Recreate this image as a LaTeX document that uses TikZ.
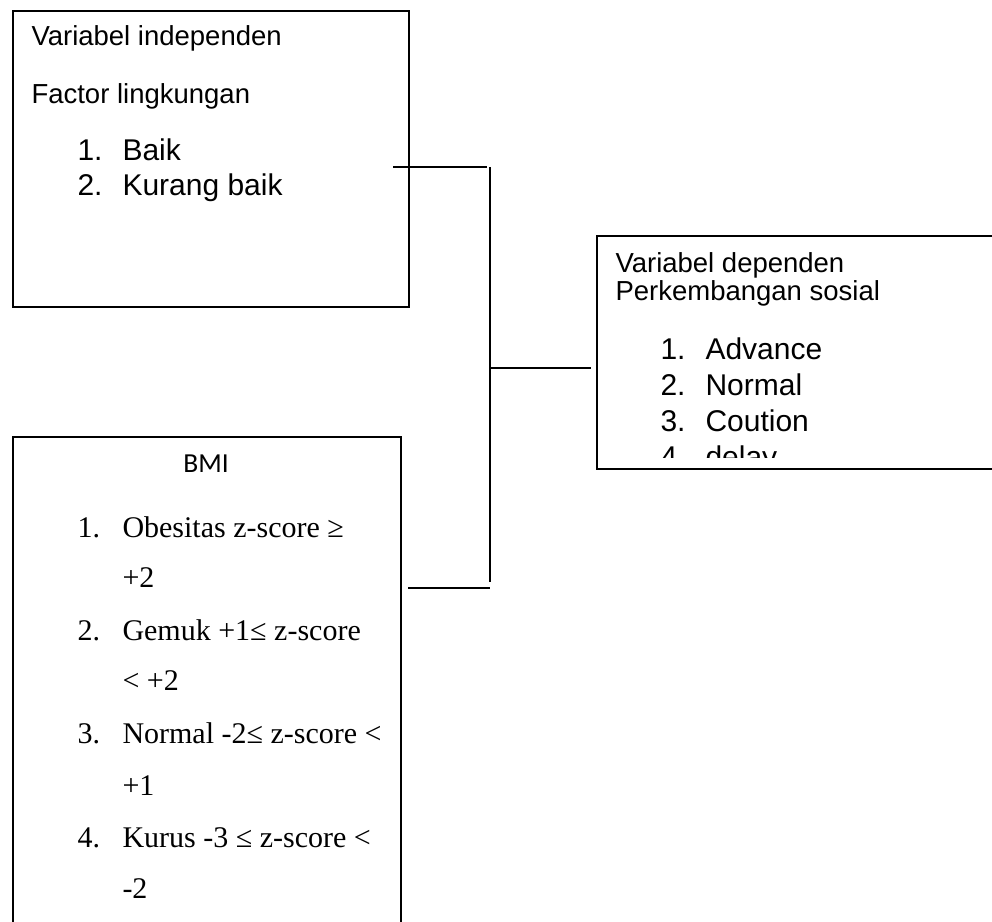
\documentclass[tikz,border=0pt]{standalone}
\usepackage{fontspec}
\setmainfont{Liberation Serif}
\newfontfamily\arialf{Liberation Sans}
\newfontfamily\calibrif{Carlito}
\begin{document}
\begin{tikzpicture}[x=0.4pt,y=-0.4pt,
  boxline/.style={draw=black,line width=0.7pt},
  conn/.style={draw=black,line width=0.7pt},
  hdr/.style={anchor=base west,inner sep=0pt,font=\arialf\fontsize{11}{13}\selectfont},
  itm/.style={anchor=base west,inner sep=0pt,font=\arialf\fontsize{12}{14}\selectfont},
  tms/.style={anchor=base west,inner sep=0pt,font=\fontsize{12}{14}\selectfont},
  cal/.style={anchor=base,inner sep=0pt,font=\calibrif\fontsize{11}{13}\selectfont}]
\useasboundingbox (0,0) rectangle (992,921);
\clip (0,0) rectangle (992,921);
% boxes
\node[boxline,anchor=north west,inner sep=0pt,minimum width=396*0.4pt,minimum height=296*0.4pt] (indep) at (12,10) {};
\node[boxline,anchor=north west,inner sep=0pt,minimum width=420*0.4pt,minimum height=233*0.4pt] (dep) at (596,235) {};
\node[boxline,anchor=north west,inner sep=0pt,minimum width=388*0.4pt,minimum height=520*0.4pt] (bmi) at (12,436) {};
% texts: independent box
\node[hdr] (t1) at (31,45) {Variabel independen};
\node[hdr] (t2) at (31,103) {Factor lingkungan};
\node[itm] (n1) at (77,160) {1.};
\node[itm] (i1) at (122,160) {Baik};
\node[itm] (n2) at (77,195) {2.};
\node[itm] (i2) at (122,195) {Kurang baik};
% texts: dependent box
\node[hdr] (d1) at (615,272) {Variabel dependen};
\node[hdr] (d2) at (615,300) {Perkembangan sosial};
\node[itm] (dn1) at (660,359) {1.};
\node[itm] (di1) at (705,359) {Advance};
\node[itm] (dn2) at (660,395) {2.};
\node[itm] (di2) at (705,395) {Normal};
\node[itm] (dn3) at (660,431) {3.};
\node[itm] (di3) at (705,431) {Coution};
\begin{scope}
\clip (600,440) rectangle (990,457);
\node[itm] (dn4) at (660,467) {4.};
\node[itm] (di4) at (705,467) {delay};
\end{scope}
% texts: BMI box
\node[cal] (b0) at (206,472) {BMI};
\node[tms] (bn1) at (77,537) {1.};
\node[tms] (bi1) at (122,537) {Obesitas z-score ≥};
\node[tms] (bc1) at (122,587) {+2};
\node[tms] (bn2) at (77,640) {2.};
\node[tms] (bi2) at (122,640) {Gemuk +1≤ z-score};
\node[tms] (bc2) at (122,690) {< +2};
\node[tms] (bn3) at (77,743) {3.};
\node[tms] (bi3) at (122,743) {Normal -2≤ z-score <};
\node[tms] (bc3) at (122,795) {+1};
\node[tms] (bn4) at (77,847) {4.};
\node[tms] (bi4) at (122,847) {Kurus -3 ≤ z-score <};
\node[tms] (bc4) at (122,898) {-2};
% connectors
\coordinate (a1) at (393,167);
\coordinate (a2) at (487,167);
\coordinate (v1) at (490,167);
\coordinate (v2) at (490,582);
\coordinate (m1) at (491,368);
\coordinate (m2) at (591,368);
\coordinate (c1) at (408,588);
\coordinate (c2) at (490,588);
\draw[conn] (a1) -- (a2);
\draw[conn] (v1) -- (v2);
\draw[conn] (m1) -- (m2);
\draw[conn] (c1) -- (c2);
\end{tikzpicture}
\end{document}
